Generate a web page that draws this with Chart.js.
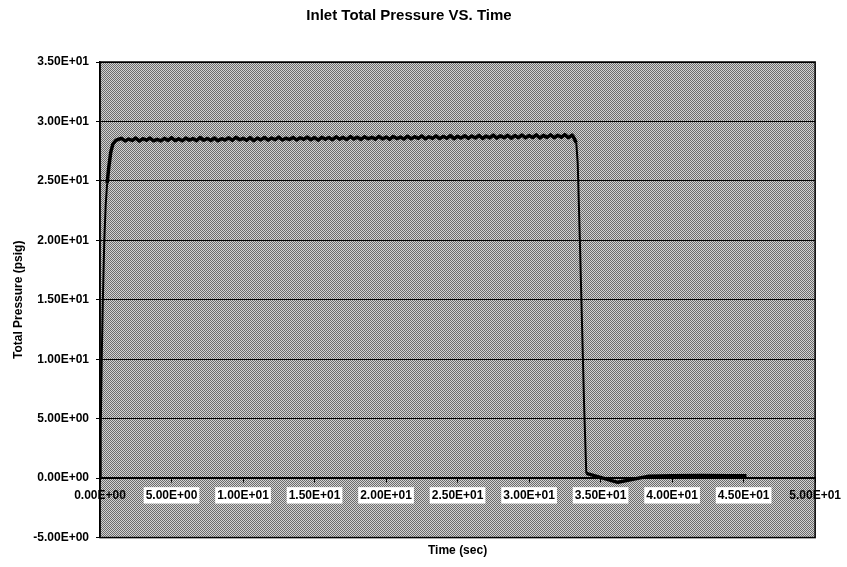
<!DOCTYPE html>
<html>
<head>
<meta charset="utf-8">
<script src="https://cdn.jsdelivr.net/npm/chart.js@4/dist/chart.umd.min.js"></script>
<style>
  html, body { margin: 0; padding: 0; background: #fff; }
  #wrap { width: 847px; height: 567px; }
</style>
</head>
<body>
<div id="wrap"><canvas id="pressureChart" width="847" height="567"></canvas></div>
<script>
// Time (sec) samples
const timeSec = [
  0, 0.05, 0.12, 0.2, 0.3, 0.4, 0.5, 0.6, 0.75, 0.9, 1.1, 1.3,
  1.5, 1.75, 2, 2.25, 2.5, 2.75, 3, 3.25,
  3.5, 3.75, 4, 4.25, 4.5, 4.75, 5, 5.25,
  5.5, 5.75, 6, 6.25, 6.5, 6.75, 7, 7.25,
  7.5, 7.75, 8, 8.25, 8.5, 8.75, 9, 9.25,
  9.5, 9.75, 10, 10.25, 10.5, 10.75, 11, 11.25,
  11.5, 11.75, 12, 12.25, 12.5, 12.75, 13, 13.25,
  13.5, 13.75, 14, 14.25, 14.5, 14.75, 15, 15.25,
  15.5, 15.75, 16, 16.25, 16.5, 16.75, 17, 17.25,
  17.5, 17.75, 18, 18.25, 18.5, 18.75, 19, 19.25,
  19.5, 19.75, 20, 20.25, 20.5, 20.75, 21, 21.25,
  21.5, 21.75, 22, 22.25, 22.5, 22.75, 23, 23.25,
  23.5, 23.75, 24, 24.25, 24.5, 24.75, 25, 25.25,
  25.5, 25.75, 26, 26.25, 26.5, 26.75, 27, 27.25,
  27.5, 27.75, 28, 28.25, 28.5, 28.75, 29, 29.25,
  29.5, 29.75, 30, 30.25, 30.5, 30.75, 31, 31.25,
  31.5, 31.75, 32, 32.25, 32.5, 32.75, 33,
  33.1, 33.3, 33.4, 33.55, 33.7, 33.85, 34.0,
  36.2, 38.3, 40, 42, 44, 45.2
];

// Total pressure (psig) at each sample
const pressurePsig = [
  0, 4, 10, 15, 20, 23, 24.8, 26, 27.4, 28.1, 28.4, 28.5,
  28.58, 28.36, 28.52, 28.40, 28.61, 28.35, 28.55, 28.42,
  28.60, 28.37, 28.50, 28.36, 28.58, 28.41, 28.63, 28.39,
  28.54, 28.37, 28.60, 28.43, 28.56, 28.38, 28.65, 28.42,
  28.57, 28.40, 28.61, 28.37, 28.55, 28.44, 28.62, 28.41,
  28.67, 28.46, 28.58, 28.42, 28.64, 28.39, 28.60, 28.45,
  28.65, 28.43, 28.61, 28.47, 28.68, 28.44, 28.59, 28.48,
  28.66, 28.45, 28.63, 28.49, 28.69, 28.46, 28.64, 28.43,
  28.67, 28.50, 28.65, 28.47, 28.71, 28.51, 28.66, 28.48,
  28.73, 28.52, 28.68, 28.49, 28.72, 28.54, 28.67, 28.51,
  28.75, 28.53, 28.70, 28.50, 28.74, 28.56, 28.69, 28.52,
  28.76, 28.55, 28.72, 28.58, 28.78, 28.54, 28.71, 28.57,
  28.79, 28.56, 28.74, 28.59, 28.81, 28.55, 28.75, 28.60,
  28.80, 28.58, 28.77, 28.61, 28.83, 28.57, 28.78, 28.62,
  28.85, 28.60, 28.79, 28.63, 28.84, 28.59, 28.81, 28.64,
  28.86, 28.62, 28.82, 28.65, 28.88, 28.61, 28.83, 28.66,
  28.87, 28.63, 28.84, 28.67, 28.89, 28.64, 28.85,
  28.7, 28.2, 26.5, 20, 13, 6, 0.4,
  -0.35, 0.15, 0.2, 0.22, 0.2, 0.2
];

const xMin = 0, xMax = 50, xStep = 5;
const yMin = -5, yMax = 35, yStep = 5;

// Excel style "3.50E+01"
function sci(v) {
  if (v === 0) return "0.00E+00";
  const a = Math.abs(v);
  let e = Math.floor(Math.log10(a));
  let m = a / Math.pow(10, e);
  if (Number(m.toFixed(2)) >= 10) { m /= 10; e += 1; }
  const sign = e < 0 ? "-" : "+";
  return (v < 0 ? "-" : "") + m.toFixed(2) + "E" + sign + String(Math.abs(e)).padStart(2, "0");
}

// dithered grey plot area, like the scanned original
function makePattern() {
  const c = document.createElement("canvas");
  c.width = 2; c.height = 2;
  const g = c.getContext("2d");
  g.fillStyle = "#d2d2d2"; g.fillRect(0, 0, 2, 2);
  g.fillStyle = "#6c6c6c"; g.fillRect(0, 0, 1, 1); g.fillRect(1, 1, 1, 1);
  return g.createPattern(c, "repeat");
}

const plotBg = {
  id: "plotBg",
  beforeDraw(ch) {
    const { ctx, chartArea: a } = ch;
    ctx.save();
    ctx.fillStyle = makePattern();
    ctx.fillRect(a.left, a.top, a.right - a.left, a.bottom - a.top);
    ctx.restore();
  },
  afterDraw(ch) {
    const { ctx, chartArea: a } = ch;
    ctx.save();
    ctx.strokeStyle = "#000";
    ctx.lineWidth = 1.5;
    ctx.strokeRect(a.left, a.top, a.right - a.left, a.bottom - a.top);
    ctx.restore();
  }
};

const fam = "'Liberation Sans', Arial, sans-serif";
const tickFont = { family: fam, size: 12, weight: "bold" };
const axisTitleFont = { family: fam, size: 12, weight: "bold" };

// noisy plateau is drawn heavier than the steep rise / drop
const segWidth = (c) => Math.abs(c.p1.parsed.y - c.p0.parsed.y) > 1.5 ? 2 : 3.5;

new Chart(document.getElementById("pressureChart"), {
  type: "line",
  data: {
    datasets: [{
      data: timeSec.map((t, i) => ({ x: t, y: pressurePsig[i] })),
      borderColor: "#000",
      borderWidth: 3.5,
      borderJoinStyle: "round",
      segment: { borderWidth: segWidth },
      pointRadius: 0,
      tension: 0,
      fill: false
    }]
  },
  options: {
    responsive: false,
    animation: false,
    layout: { padding: { left: 0, right: 29, top: 0, bottom: 0 } },
    plugins: {
      legend: { display: false },
      tooltip: { enabled: false },
      title: {
        display: true,
        text: "Inlet Total Pressure VS. Time",
        color: "#000",
        font: { family: fam, size: 15, weight: "bold" },
        padding: { top: 7, bottom: 37 }
      }
    },
    scales: {
      x: {
        type: "linear",
        position: { y: 0 },
        min: xMin, max: xMax,
        border: { display: true, color: "#000", width: 1.5 },
        grid: { drawOnChartArea: false, drawTicks: true, tickLength: 4, color: "#000" },
        ticks: {
          stepSize: xStep,
          color: "#000",
          font: tickFont,
          padding: 6,
          maxRotation: 0,
          autoSkip: false,
          showLabelBackdrop: (c) => c.index !== 0 && c.index !== 10,
          backdropColor: "#fff",
          backdropPadding: { top: 1, bottom: 1, left: 2, right: 2 },
          callback: (v) => sci(v)
        }
      },
      xTitle: {
        type: "linear",
        axis: "x",
        position: "bottom",
        min: xMin, max: xMax,
        border: { display: false },
        grid: { display: false, drawTicks: false },
        ticks: { display: false },
        title: {
          display: true,
          text: "Time (sec)",
          color: "#000",
          font: axisTitleFont,
          padding: { top: 6, bottom: 9 }
        }
      },
      y: {
        min: yMin, max: yMax,
        border: { display: true, color: "#000", width: 1.5 },
        grid: { color: "#000", lineWidth: 1, drawTicks: true, tickLength: 4 },
        ticks: {
          stepSize: yStep,
          color: "#000",
          font: tickFont,
          padding: 7,
          callback: (v) => sci(v)
        },
        title: {
          display: true,
          text: "Total Pressure (psig)",
          color: "#000",
          font: axisTitleFont,
          padding: { top: 11, bottom: 0 }
        },
        afterFit: (s) => { s.width = 100; }
      }
    }
  },
  plugins: [plotBg]
});
</script>
</body>
</html>
